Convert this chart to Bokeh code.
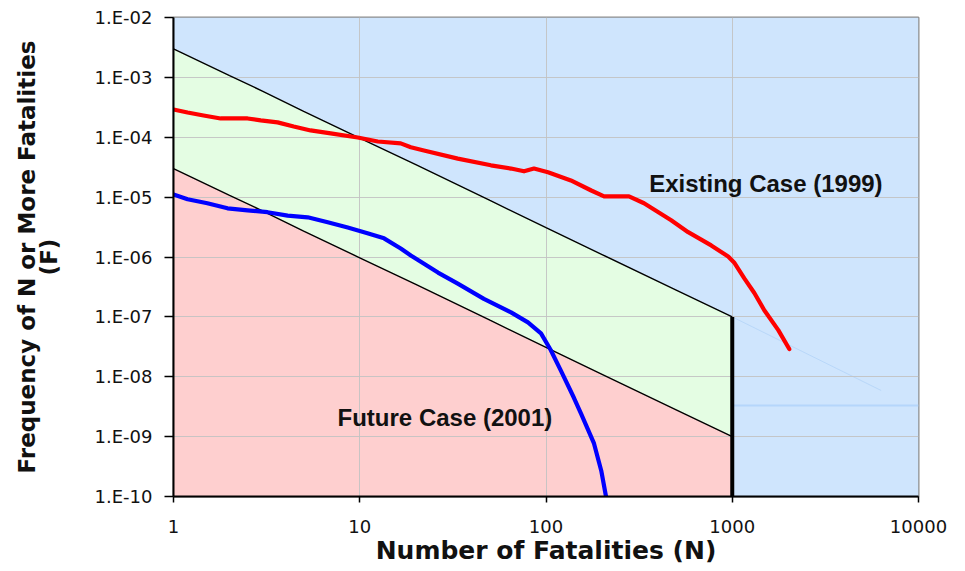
from bokeh.plotting import figure
from bokeh.models import FixedTicker
from bokeh.core.properties import value
from bokeh.embed import file_html
from bokeh.resources import INLINE

# ---- data ----
x_ticks = [1, 10, 100, 1000, 10000]
x_tick_labels = ["1", "10", "100", "1000", "10000"]
y_ticks = [1e-10, 1e-9, 1e-8, 1e-7, 1e-6, 1e-5, 1e-4, 1e-3, 1e-2]
y_tick_labels = ["1.E-10", "1.E-09", "1.E-08", "1.E-07", "1.E-06",
                 "1.E-05", "1.E-04", "1.E-03", "1.E-02"]

# criteria lines (upper / lower bound of ALARP region)
n_crit = [1, 2, 3, 5, 10, 20, 50, 100, 200, 500, 1000]
f_upper = [3.0e-3, 1.07e-3, 5.9e-4, 2.7e-4, 9.7e-5, 3.5e-5, 8.8e-6, 3.1e-6, 1.1e-6, 2.8e-7, 1.0e-7]
f_lower = [3.0e-5, 1.07e-5, 5.9e-6, 2.7e-6, 9.7e-7, 3.5e-7, 8.8e-8, 3.1e-8, 1.1e-8, 2.8e-9, 1.0e-9]
f_floor = [1e-10] * len(n_crit)

# Existing case (1999)
n_existing = [1, 1.19, 1.45, 1.79, 2.5, 2.94, 3.62, 4.42, 5.45, 6.98, 9.75, 12.5, 16.6,
              18.8, 22.1, 33.6, 50.6, 64.9, 76.2, 86.2, 102.5, 136, 175, 205, 253, 279,
              336, 470, 580, 771, 951, 1023, 1161, 1314, 1486, 1767, 2024]
f_existing = [2.91e-4, 2.59e-4, 2.31e-4, 2.06e-4, 2.06e-4, 1.91e-4, 1.77e-4, 1.51e-4, 1.30e-4,
              1.16e-4, 9.9e-5, 8.5e-5, 7.9e-5, 6.8e-5, 6.0e-5, 4.4e-5, 3.4e-5, 3.0e-5, 2.7e-5,
              3.0e-5, 2.6e-5, 1.9e-5, 1.29e-5, 1.03e-5, 1.03e-5, 1.03e-5, 7.9e-6, 4.1e-6,
              2.6e-6, 1.56e-6, 1.02e-6, 8.1e-7, 4.4e-7, 2.5e-7, 1.29e-7, 6.0e-8, 2.9e-8]

# Future case (2001)
n_future = [1, 1.19, 1.52, 1.95, 2.5, 3.2, 4.1, 5.25, 6.73, 8.62, 11.0, 13.5, 16.6, 18.8,
            26.3, 33.6, 46.4, 64.9, 80.0, 94.0, 106, 120, 141, 154, 181, 198, 210]
f_future = [1.11e-5, 9.2e-6, 7.9e-6, 6.5e-6, 6.0e-6, 5.6e-6, 4.9e-6, 4.6e-6, 3.8e-6, 3.1e-6,
            2.5e-6, 2.05e-6, 1.39e-6, 1.06e-6, 5.5e-7, 3.6e-7, 2.0e-7, 1.19e-7, 8.1e-8, 5.3e-8,
            2.8e-8, 1.28e-8, 4.5e-9, 2.45e-9, 7.7e-10, 2.7e-10, 1.0e-10]

# faint artefact lines in the blue region
n_faint_diag = [1000, 6300]
f_faint_diag = [1.0e-7, 5.9e-9]
n_faint_h = [1000, 10000]
f_faint_h = [3.3e-9, 3.3e-9]

# ---- figure ----
p = figure(width=950, height=567, x_axis_type="log", y_axis_type="log",
           x_range=(1, 10000), y_range=(1e-10, 1e-2),
           output_backend="svg", toolbar_location=None,
           min_border_left=173, min_border_right=32, min_border_top=17, min_border_bottom=71)

p.background_fill_color = "#ffffff"
p.border_fill_color = "#ffffff"
p.outline_line_color = "#8c8c8c"
p.outline_line_width = 2

# blue background region
p.varea(x=x_ticks, y1=[1e-10] * len(x_ticks), y2=[1e-2] * len(x_ticks), fill_color="#cfe5fd",
        level="image")
# green (ALARP) region
p.varea(x=n_crit, y1=f_lower, y2=f_upper, fill_color="#e4fde3", level="image")
# red region
p.varea(x=n_crit, y1=f_floor, y2=f_lower, fill_color="#fecfcf", level="image")

p.line(n_faint_diag, f_faint_diag, line_color="#b3d3f7", line_width=1, line_alpha=0.8, level="image")
p.line(n_faint_h, f_faint_h, line_color="#b5d6fb", line_width=2, level="image")

# grid drawn above fills, below lines
p.xgrid.ticker = FixedTicker(ticks=x_ticks)
p.ygrid.ticker = FixedTicker(ticks=y_ticks)
p.grid.grid_line_color = "#c2c2c2"
p.grid.grid_line_width = 1
p.xgrid.level = "underlay"
p.ygrid.level = "underlay"
p.grid.grid_line_alpha = 0.9

# criteria lines
p.line(n_crit, f_upper, line_color="black", line_width=1.4)
p.line(n_crit, f_lower, line_color="black", line_width=1.4)
p.segment(x0=[n_crit[-1]], y0=[f_floor[-1]], x1=[n_crit[-1]], y1=[f_upper[-1]],
          line_color="black", line_width=4)

# cases
p.line(n_existing, f_existing, line_color="#ff0000", line_width=4.2, line_join="round", line_cap="round")
p.line(n_future, f_future, line_color="#0000ff", line_width=4.2, line_join="round", line_cap="round")

p.text(x=[358], y=[1.7e-5], text=["Existing Case (1999)"], text_font=value("Liberation Sans"),
       text_font_style="bold", text_font_size="24px", text_align="left", text_baseline="middle",
       text_color="#111111")
p.text(x=[7.6], y=[2.1e-9], text=["Future Case (2001)"], text_font=value("Liberation Sans"),
       text_font_style="bold", text_font_size="24px", text_align="left", text_baseline="middle",
       text_color="#111111")

# axes
p.xaxis.ticker = FixedTicker(ticks=x_ticks)
p.yaxis.ticker = FixedTicker(ticks=y_ticks)
p.xaxis.major_label_overrides = dict(zip(x_ticks, x_tick_labels))
p.yaxis.major_label_overrides = dict(zip(y_ticks, y_tick_labels))

for ax in (p.xaxis, p.yaxis):
    ax.axis_line_color = "black"
    ax.axis_line_width = 2
    ax.major_tick_line_color = "black"
    ax.major_tick_line_width = 1.5
    ax.minor_tick_line_color = None
    ax.major_tick_in = 0
    ax.major_label_text_font = "DejaVu Sans"
    ax.major_label_text_font_size = "18px"
    ax.major_label_text_color = "#111111"
    ax.axis_label_text_font = "DejaVu Sans"
    ax.axis_label_text_font_style = "bold"
    ax.axis_label_text_color = "#111111"

p.xaxis.major_tick_out = 6
p.xaxis.major_label_standoff = 17
p.xaxis.axis_label = "Number of Fatalities (N)"
p.xaxis.axis_label_text_font_size = "25px"
p.xaxis.axis_label_standoff = 0

p.yaxis.major_tick_out = 9
p.yaxis.major_label_standoff = 12
p.yaxis.axis_label = "Frequency of N or More Fatalities\n(F)"
p.yaxis.axis_label_text_font_size = "23px"
p.yaxis.axis_label_text_line_height = 0.82
p.yaxis.axis_label_standoff = 30

open("out.html", "w").write(file_html(p, INLINE))
